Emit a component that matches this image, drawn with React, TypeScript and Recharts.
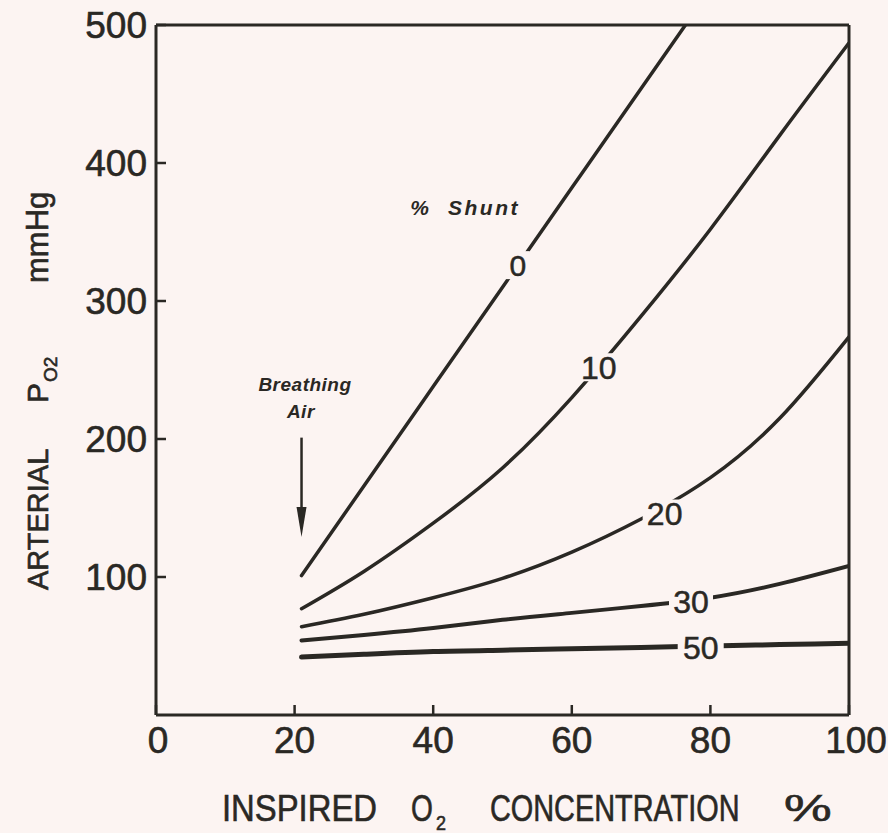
import React from 'react';
import { LineChart, Line, XAxis, YAxis, ReferenceDot, ReferenceLine, Customized } from 'recharts';

const INK = '#2a2824';
const BG = '#fcf4f2';
const SANS = '"Liberation Sans", Arial, sans-serif';

const xTicks = [0, 20, 40, 60, 80, 100];
const yTicks = [100, 200, 300, 400, 500];
const topTicks = [20, 40, 60, 80];
const rightTicks = [100, 200, 300, 400];

// % shunt curves: inspired O2 % (x) vs arterial PO2 mmHg (y)
const shunt0 = [
  { x: 21, y: 101 }, { x: 30, y: 166 }, { x: 40, y: 238 }, { x: 50, y: 310 },
  { x: 60, y: 382 }, { x: 70, y: 454 }, { x: 76.4, y: 500 },
];
const shunt10 = [
  { x: 21, y: 77 }, { x: 30, y: 104 }, { x: 40, y: 139 }, { x: 50, y: 179 },
  { x: 60, y: 230 }, { x: 70, y: 289 }, { x: 80, y: 352 }, { x: 90, y: 420 }, { x: 100, y: 487 },
];
const shunt20 = [
  { x: 21, y: 64 }, { x: 30, y: 73 }, { x: 40, y: 85 }, { x: 50, y: 99 },
  { x: 60, y: 118 }, { x: 70, y: 142 }, { x: 80, y: 172 }, { x: 90, y: 215 }, { x: 100, y: 274 },
];
const shunt30 = [
  { x: 21, y: 54 }, { x: 30, y: 58 }, { x: 40, y: 63 }, { x: 50, y: 69 },
  { x: 60, y: 74 }, { x: 70, y: 79 }, { x: 80, y: 85 }, { x: 90, y: 95 }, { x: 100, y: 108 },
];
const shunt50 = [
  { x: 21, y: 42 }, { x: 30, y: 44 }, { x: 40, y: 46 }, { x: 50, y: 47 },
  { x: 60, y: 48 }, { x: 70, y: 49 }, { x: 80, y: 50 }, { x: 90, y: 51 }, { x: 100, y: 52 },
];

const series = [
  { name: '0', data: shunt0, width: 3.5 },
  { name: '10', data: shunt10, width: 3.5 },
  { name: '20', data: shunt20, width: 3.5 },
  { name: '30', data: shunt30, width: 4 },
  { name: '50', data: shunt50, width: 5 },
];

const curveLabels = [
  { text: '0', x: 52.2, y: 326, size: 30, w: 24, h: 28 },
  { text: '10', x: 63.9, y: 252, size: 32, w: 42, h: 28 },
  { text: '20', x: 73.4, y: 146, size: 32, w: 44, h: 28 },
  { text: '30', x: 77.2, y: 82, size: 32, w: 44, h: 24 },
  { text: '50', x: 78.6, y: 49, size: 32, w: 46, h: 24 },
];

const notes = [
  { text: '%  Shunt', x: 44.6, y: 368, size: 21, spacing: 2.5 },
  { text: 'Breathing', x: 21.5, y: 240, size: 19, spacing: 0.5 },
  { text: 'Air', x: 20.9, y: 220, size: 19, spacing: 0.5 },
];

const arrow = { x: 21, from: 201, to: 129 };

const tagShape = (l: any) => (p: any) => {
  const { cx, cy } = p;
  return (
    <g>
      <rect x={cx - l.w / 2} y={cy - l.h / 2} width={l.w} height={l.h} fill={BG} />
      <text x={cx} y={cy} dy="0.36em" textAnchor="middle" fontFamily={SANS} fontSize={l.size}
        fill={INK} stroke={INK} strokeWidth={0.5}>
        {l.text}
      </text>
    </g>
  );
};

const noteShape = (n: any) => (p: any) => (
  <text x={p.cx} y={p.cy} dy="0.36em" textAnchor="middle" fontFamily={SANS} fontSize={n.size}
    fontWeight="bold" fontStyle="italic" letterSpacing={n.spacing} fill={INK} xmlSpace="preserve">
    {n.text}
  </text>
);

const arrowHead = (p: any) => {
  const { cx, cy } = p;
  return <polygon points={`${cx},${cy} ${cx - 5},${cy - 30} ${cx + 5},${cy - 30}`} fill={INK} />;
};

const XTick = (p: any) => {
  const { x, y, payload } = p;
  const shift = payload.value === 100 ? 7 : payload.value === 0 ? 2 : 0;
  return (
    <text x={x + shift} y={y} dy="0.71em" textAnchor="middle" fontFamily={SANS} fontSize={37}
      fill={INK} stroke={INK} strokeWidth={0.6}>
      {payload.value}
    </text>
  );
};

const YTick = (p: any) => {
  const { x, y, payload } = p;
  return (
    <text x={x} y={y} dy="0.36em" textAnchor="end" fontFamily={SANS} fontSize={37}
      fill={INK} stroke={INK} strokeWidth={0.6}>
      {payload.value}
    </text>
  );
};

const AxisTitles = () => (
  <g fill={INK} stroke={INK} strokeWidth={0.6} fontFamily={SANS}>
    <text transform="translate(222 821) scale(0.887 1)" fontSize={37}>INSPIRED</text>
    <text transform="translate(411 821) scale(0.76 1)" fontSize={37}>O</text>
    <text transform="translate(436 830) scale(0.9 1)" fontSize={20}>2</text>
    <text transform="translate(490 821) scale(0.78 1)" fontSize={37}>CONCENTRATION</text>
    <text transform="translate(784 821) scale(1.45 1)" fontSize={37}>%</text>
    <g transform="translate(48 590) rotate(-90)">
      <text x={0} y={0} fontSize={29}>ARTERIAL</text>
      <text x={187} y={0} fontSize={30}>P</text>
      <text x={208} y={9} fontSize={19}>O2</text>
      <text x={307} y={0} fontSize={31}>mmHg</text>
    </g>
  </g>
);

export default function App() {
  return (
    <div style={{ position: 'absolute', left: 0, top: 0, width: 888, height: 833, background: BG }}>
      <LineChart width={888} height={833} margin={{ top: 24, right: 38, bottom: 117, left: 155 }}>
        <XAxis
          xAxisId={0}
          type="number"
          dataKey="x"
          domain={[0, 100]}
          ticks={xTicks}
          height={1}
          allowDataOverflow
          axisLine={{ stroke: INK, strokeWidth: 3 }}
          tickLine={{ stroke: INK, strokeWidth: 2.5 }}
          tickSize={-10}
          tickMargin={22}
          tick={XTick}
          interval={0}
        />
        <XAxis
          xAxisId="top"
          orientation="top"
          type="number"
          dataKey="x"
          domain={[0, 100]}
          ticks={topTicks}
          height={1}
          axisLine={{ stroke: INK, strokeWidth: 3 }}
          tickLine={{ stroke: INK, strokeWidth: 2.5 }}
          tickSize={-10}
          tick={false}
        />
        <YAxis
          yAxisId={0}
          type="number"
          domain={[0, 500]}
          ticks={yTicks}
          width={1}
          allowDataOverflow
          axisLine={{ stroke: INK, strokeWidth: 3 }}
          tickLine={{ stroke: INK, strokeWidth: 2.5 }}
          tickSize={-10}
          tickMargin={19}
          tick={YTick}
          interval={0}
        />
        <YAxis
          yAxisId="right"
          orientation="right"
          type="number"
          domain={[0, 500]}
          ticks={rightTicks}
          width={1}
          axisLine={{ stroke: INK, strokeWidth: 3 }}
          tickLine={{ stroke: INK, strokeWidth: 2.5 }}
          tickSize={-10}
          tick={false}
        />
        {series.map((s) => (
          <Line
            key={s.name}
            data={s.data}
            dataKey="y"
            type="natural"
            stroke={INK}
            strokeWidth={s.width}
            strokeLinecap="round"
            dot={false}
            activeDot={false}
            isAnimationActive={false}
          />
        ))}
        <ReferenceLine
          segment={[{ x: arrow.x, y: arrow.from }, { x: arrow.x, y: arrow.to + 8 }]}
          stroke={INK}
          strokeWidth={2.5}
          ifOverflow="visible"
        />
        <ReferenceDot x={arrow.x} y={arrow.to} r={1} shape={arrowHead} ifOverflow="visible" />
        {curveLabels.map((l) => (
          <ReferenceDot key={l.text} x={l.x} y={l.y} r={1} shape={tagShape(l)} ifOverflow="visible" />
        ))}
        {notes.map((n) => (
          <ReferenceDot key={n.text} x={n.x} y={n.y} r={1} shape={noteShape(n)} ifOverflow="visible" />
        ))}
        <Customized component={AxisTitles} />
      </LineChart>
    </div>
  );
}
